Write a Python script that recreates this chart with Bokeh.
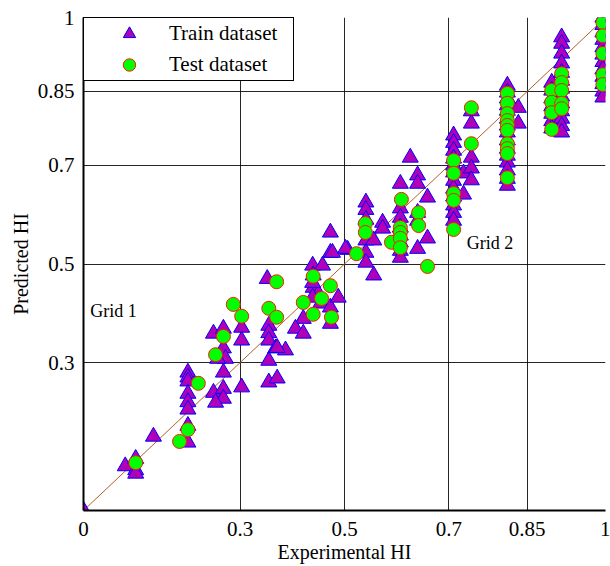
from bokeh.plotting import figure
from bokeh.models import FixedTicker
from bokeh.core.properties import value
from bokeh.embed import file_html
from bokeh.resources import INLINE

# ---- data ----
train_x = [0.0,
           0.08, 0.10, 0.10, 0.10, 0.134,
           0.20, 0.20, 0.20, 0.20, 0.20, 0.20, 0.20, 0.20,
           0.249, 0.268, 0.268, 0.253, 0.268,
           0.249, 0.268, 0.268, 0.272, 0.257,
           0.303, 0.303, 0.303,
           0.352, 0.355, 0.355, 0.355, 0.355, 0.368, 0.387, 0.355, 0.371, 0.371,
           0.421, 0.406, 0.421,
           0.439, 0.458, 0.44, 0.44, 0.45, 0.439, 0.454, 0.473, 0.488, 0.473, 0.473, 0.473, 0.506, 0.477, 0.439,
           0.541, 0.541, 0.541, 0.541, 0.541, 0.541, 0.573, 0.573, 0.556, 0.556, 0.502,
           0.607, 0.607, 0.607, 0.607, 0.607, 0.607, 0.607, 0.607,
           0.626, 0.64, 0.64, 0.659, 0.64, 0.64, 0.659, 0.64,
           0.709, 0.709, 0.709, 0.709, 0.709, 0.709, 0.709, 0.709, 0.709, 0.709, 0.709, 0.709,
           0.728, 0.728,
           0.743, 0.743, 0.743, 0.743, 0.743,
           0.812, 0.812, 0.812, 0.812, 0.812, 0.812, 0.812, 0.812, 0.812, 0.812, 0.812, 0.812, 0.812, 0.812, 0.812,
           0.833, 0.833,
           0.897, 0.897, 0.897, 0.897, 0.897, 0.897, 0.897,
           0.916, 0.916, 0.916, 0.916, 0.916, 0.916, 0.916, 0.916, 0.916, 0.916, 0.916, 0.916, 0.916,
           0.995, 0.995, 0.995, 0.995, 0.995, 0.995, 0.995, 0.995, 0.995, 0.995, 0.995, 0.995]
train_y = [0.0,
           0.09, 0.105, 0.082, 0.075, 0.15,
           0.28, 0.27, 0.262, 0.237, 0.22, 0.205, 0.172, 0.138,
           0.239, 0.247, 0.227, 0.219, 0.28,
           0.359, 0.369, 0.329, 0.308, 0.308,
           0.371, 0.345, 0.25,
           0.47, 0.375, 0.36, 0.345, 0.304, 0.329, 0.325, 0.26, 0.268, 0.33,
           0.389, 0.369, 0.359,
           0.497, 0.497, 0.477, 0.452, 0.44, 0.432, 0.42, 0.412, 0.432, 0.379, 0.564, 0.523, 0.529, 0.523, 0.462,
           0.625, 0.61, 0.59, 0.548, 0.523, 0.503, 0.584, 0.572, 0.548, 0.477, 0.531,
           0.663, 0.613, 0.594, 0.574, 0.558, 0.544, 0.527, 0.513,
           0.716, 0.68, 0.663, 0.635, 0.604, 0.588, 0.552, 0.531,
           0.761, 0.746, 0.73, 0.714, 0.70, 0.686, 0.669, 0.653, 0.637, 0.619, 0.604, 0.588,
           0.684, 0.641,
           0.81, 0.785, 0.716, 0.694, 0.67,
           0.862, 0.848, 0.836, 0.822, 0.811, 0.795, 0.781, 0.767, 0.751, 0.734, 0.72, 0.706, 0.69, 0.673, 0.659,
           0.817, 0.785,
           0.868, 0.852, 0.836, 0.82, 0.805, 0.79, 0.775,
           0.96, 0.947, 0.927, 0.907, 0.888, 0.872, 0.856, 0.84, 0.826, 0.81, 0.795, 0.78, 0.767,
           1.0, 0.985, 0.97, 0.955, 0.94, 0.925, 0.91, 0.895, 0.88, 0.865, 0.85, 0.838]

test_x = [0.10, 0.22, 0.20, 0.184, 0.268, 0.253, 0.287, 0.303, 0.37, 0.355, 0.37, 0.421,
          0.44, 0.473, 0.456, 0.44, 0.475, 0.523, 0.54, 0.54, 0.59,
          0.609, 0.607, 0.607, 0.607, 0.607, 0.642, 0.642, 0.659,
          0.709, 0.709, 0.709, 0.709, 0.709, 0.743, 0.743,
          0.812, 0.812, 0.812, 0.812, 0.812, 0.812, 0.812, 0.812, 0.812, 0.812,
          0.897, 0.897, 0.897, 0.897, 0.916, 0.916, 0.916, 0.916, 0.916,
          0.995, 0.995, 0.995, 0.995, 0.995]
test_y = [0.097, 0.258, 0.164, 0.14, 0.353, 0.316, 0.418, 0.394, 0.464, 0.41, 0.392, 0.422,
          0.475, 0.456, 0.43, 0.398, 0.392, 0.521, 0.582, 0.564, 0.544,
          0.631, 0.574, 0.564, 0.552, 0.533, 0.604, 0.578, 0.495,
          0.71, 0.684, 0.643, 0.629, 0.57, 0.817, 0.744,
          0.846, 0.826, 0.805, 0.791, 0.781, 0.771, 0.744, 0.734, 0.724, 0.675,
          0.852, 0.828, 0.807, 0.773, 0.886, 0.868, 0.852, 0.826, 0.815,
          0.99, 0.963, 0.927, 0.884, 0.864]

x_ticks = [0, 0.3, 0.5, 0.7, 0.85, 1]
x_tick_labels = ["0", "0.3", "0.5", "0.7", "0.85", "1"]
y_ticks = [0.3, 0.5, 0.7, 0.85, 1]
y_tick_labels = ["0.3", "0.5", "0.7", "0.85", "1"]

ref_line = [0, 1]

note_x = [0.013, 0.734]
note_y = [0.405, 0.542]
note_text = ["Grid 1", "Grid 2"]

SERIF = "Liberation Serif"

p = figure(width=610, height=566, x_range=(0, 1), y_range=(0, 1),
           output_backend="svg", toolbar_location=None,
           min_border_left=83, min_border_right=5, min_border_top=17, min_border_bottom=56)
p.outline_line_color = None
p.background_fill_color = "white"
p.border_fill_color = "white"

p.line(ref_line, ref_line, line_color="#b4602a", line_width=1)

tr = p.scatter(train_x, train_y, marker="triangle", size=16,
               fill_color="#b000b8", line_color="#0000ff", line_width=1,
               legend_label="Train dataset")
te = p.scatter(test_x, test_y, marker="circle", size=14,
               fill_color="#00ff00", line_color="#ff1a00", line_width=1,
               legend_label="Test dataset")

p.text(note_x, note_y, text=note_text, text_font=value(SERIF), text_font_size="18px",
       text_baseline="middle", text_align="left", text_color="black")

for ax, ticks, labels in ((p.xaxis[0], x_ticks, x_tick_labels), (p.yaxis[0], y_ticks, y_tick_labels)):
    ax.ticker = FixedTicker(ticks=ticks)
    ax.major_label_overrides = {t: l for t, l in zip(ticks, labels)}
    ax.axis_line_width = 2
    ax.axis_line_color = "black"
    ax.major_tick_line_color = None
    ax.minor_tick_line_color = None
    ax.major_tick_out = 0
    ax.major_tick_in = 0
    ax.minor_tick_out = 0
    ax.minor_tick_in = 0
    ax.major_label_text_font = SERIF
    ax.major_label_text_font_size = "21px"
    ax.major_label_text_color = "black"
    ax.axis_label_text_font = SERIF
    ax.axis_label_text_font_size = "20px"
    ax.axis_label_text_font_style = "normal"
    ax.axis_label_text_color = "black"

p.xaxis.axis_label = "Experimental HI"
p.yaxis.axis_label = "Predicted HI"
p.xaxis.major_label_standoff = 11
p.yaxis.major_label_standoff = 9
p.xaxis.axis_label_standoff = 2
p.yaxis.axis_label_standoff = 3

for g in (p.xgrid[0], p.ygrid[0]):
    g.grid_line_color = "black"
    g.grid_line_width = 1
    g.grid_line_alpha = 0.85
p.xgrid.ticker = FixedTicker(ticks=x_ticks)
p.ygrid.ticker = FixedTicker(ticks=y_ticks)

lg = p.legend[0]
lg.location = "top_left"
lg.margin = 0
lg.padding = (15, 11, 0, 0)
lg.spacing = 0
lg.glyph_height = 31
lg.glyph_width = 60
lg.label_standoff = 10
lg.label_width = 113
lg.label_text_font = SERIF
lg.label_text_font_size = "21px"
lg.label_text_color = "black"
lg.border_line_color = "black"
lg.border_line_alpha = 1.0
lg.border_line_width = 1
lg.background_fill_color = "white"
lg.background_fill_alpha = 1.0

open("out.html", "w").write(file_html(p, INLINE))
